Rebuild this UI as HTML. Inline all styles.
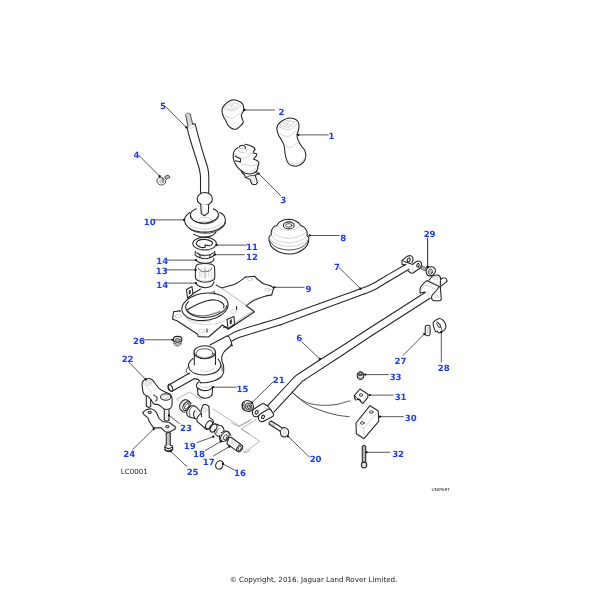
<!DOCTYPE html><html><head><meta charset="utf-8"><title>LC0001</title><style>
html,body{margin:0;padding:0;background:#fff;}
svg{display:block}
text{text-rendering:geometricPrecision}
.n{font-family:"DejaVu Sans","Liberation Sans",sans-serif;font-weight:bold;font-size:8.55px;fill:#1a3cff;text-anchor:middle}
.t{font-family:"DejaVu Sans","Liberation Sans",sans-serif;fill:#222}
.a{fill:none;stroke:#262626;stroke-width:1.08;stroke-linecap:round;stroke-linejoin:round}
.b{fill:#fff;stroke:#262626;stroke-width:1.08;stroke-linecap:round;stroke-linejoin:round}
.c{fill:none;stroke:#aaa;stroke-width:0.5;stroke-linecap:round;stroke-linejoin:round}
.d{fill:none;stroke:#2a2a2a;stroke-width:0.8;stroke-linecap:round;stroke-linejoin:round}
.e{fill:#fff;stroke:#2a2a2a;stroke-width:0.8;stroke-linecap:round;stroke-linejoin:round}
.l{fill:none;stroke:#3a3a3a;stroke-width:0.85}
.g{fill:none;stroke:#888;stroke-width:0.6}
</style></head><body>
<svg width="600" height="600" viewBox="0 0 600 600">
<rect width="600" height="600" fill="#fff"/>
<g>
<path class="b" d="M231 100.2 C232.2 99.8 233.7 99.8 235 100 C236.3 100.2 237.8 100.7 239 101.3 C240.2 101.9 241.6 102.7 242.3 103.7 C243.1 104.7 243.5 106.1 243.7 107.3 C243.8 108.6 243.7 109.7 243.3 111 C242.9 112.3 241.5 113.7 241.3 115 C241.2 116.3 242 117.8 242.3 119 C242.7 120.2 243.6 121.3 243.3 122.3 C243.1 123.4 242.1 124.3 241 125.3 C239.9 126.4 238.1 128 237 128.7 C235.9 129.3 235.3 129.4 234.3 129.3 C233.3 129.2 232.1 128.7 231 128 C229.9 127.3 228.8 126.5 228 125.3 C227.2 124.2 226.7 122.4 226 121 C225.3 119.6 224.3 118.4 223.7 117 C223 115.6 222.4 114.1 222.2 112.7 C222 111.3 222 109.9 222.3 108.7 C222.7 107.4 223.4 106.4 224.3 105.3 C225.2 104.3 226.6 103.2 227.7 102.3 C228.8 101.5 229.8 100.6 231 100.2 Z"/>
<path class="c" d="M225 107 L231.3 102.3"/>
<path class="c" d="M231.3 102.3 L239 104.3"/>
<path class="c" d="M239 104.3 C238.7 104.7 238 105.9 237 106.7 C236 107.4 233.7 108.6 233 109"/>
<path class="c" d="M233 109 C232.2 108.9 229.7 109 228.3 108.7 C227 108.3 225.6 107.3 225 107"/>
<path class="c" d="M229.3 105 L235 106.5"/>
<path class="c" d="M232.7 104 L230.7 107"/>
<path class="c" d="M223.7 114.3 C224.3 114.8 226.2 116.3 227.7 117 C229.1 117.7 230.9 118.4 232.3 118.3 C233.8 118.2 235 117.3 236.3 116.3 C237.7 115.4 239.7 113.3 240.3 112.7"/>
<path class="c" d="M224 108.7 C224.6 108.9 226.3 109.8 227.7 110.2 C229.1 110.6 230.8 111.1 232.3 110.9 C233.9 110.6 235.5 109.6 237 108.7 C238.5 107.7 240.6 105.9 241.3 105.3"/>
<path class="b" d="M289 118 C290.6 117.9 292.6 118.3 294 118.8 C295.4 119.3 296.7 120 297.5 121 C298.3 122 298.8 123.5 299 125 C299.2 126.5 298.8 128.4 298.5 130 C298.2 131.6 297.1 132.8 297 134.5 C296.9 136.2 297.3 138.2 298 140 C298.7 141.8 299.9 143.8 301 145.5 C302.1 147.2 303.7 148.5 304.5 150 C305.3 151.5 305.7 152.9 305.8 154.5 C305.9 156.1 305.6 158 305 159.5 C304.4 161 303.3 162.4 302 163.5 C300.7 164.6 298.6 165.6 297 166 C295.4 166.4 293.9 166.2 292.5 165.8 C291.1 165.4 289.5 164.6 288.5 163.5 C287.5 162.4 287.1 161.2 286.5 159.5 C285.9 157.8 285.4 155.4 285 153 C284.6 150.6 284.6 147.2 284 145 C283.4 142.8 282.4 141.7 281.5 140 C280.6 138.3 279.2 136.7 278.5 135 C277.8 133.3 277.2 131.6 277 130 C276.8 128.4 277 126.8 277.5 125.5 C278 124.2 278.8 123.5 280 122.5 C281.2 121.5 283 120.2 284.5 119.5 C286 118.8 287.4 118.1 289 118 Z"/>
<path class="c" d="M280 125 L286.5 120.5"/>
<path class="c" d="M286.5 120.5 L294.5 122"/>
<path class="c" d="M294.5 122 C294.2 122.5 293.4 124.2 292.5 125 C291.6 125.8 289.6 126.7 289 127"/>
<path class="c" d="M289 127 C288.2 127 285.5 127.1 284 126.8 C282.5 126.5 280.7 125.3 280 125"/>
<path class="c" d="M284 123.2 L290.5 124.8"/>
<path class="c" d="M288.5 121.8 L286 126"/>
<path class="c" d="M279 126.5 C279.8 126.9 282.3 128.5 284 129 C285.7 129.5 287.3 129.8 289 129.5 C290.7 129.2 292.6 128.1 294 127 C295.4 125.9 296.9 123.7 297.5 123"/>
<path class="c" d="M279 133 C279.8 133.5 282.3 135.3 284 135.8 C285.7 136.3 287.5 136.6 289 136.2 C290.5 135.8 291.8 134.4 293 133.5 C294.2 132.6 295.9 131 296.5 130.5"/>
<path class="c" d="M284 145 C284.7 145.4 286.8 146.9 288 147.2 C289.2 147.5 290.3 147.4 291.5 147 C292.7 146.6 293.8 145.4 295 144.5 C296.2 143.6 297.9 142 298.5 141.5"/>
<path class="c" d="M288.5 161 C289.2 161.5 291.2 163.7 293 164 C294.8 164.3 297.2 163.8 299 163 C300.8 162.2 303.2 159.7 304 159"/>
<path class="a" d="M237.9 147.5 C237.4 147.9 235.8 149 235 150 C234.2 151 233.6 152.4 233.3 153.8 C233.1 155.1 233.1 156.7 233.3 158.3 C233.6 159.9 234.3 161.9 235 163.3 C235.7 164.8 236.5 165.8 237.5 167.1 C238.5 168.3 240.6 170.2 241.2 170.8"/>
<path class="a" d="M245 144.2 C245.8 144.4 248.5 144.9 250 145.4 C251.5 146 252.9 146.8 253.8 147.5 C254.6 148.2 254.8 149.2 255 149.6"/>
<path class="a" d="M255 149.6 L253.3 151.7 L253.3 152.9 L256.7 153.8 L256.2 156.2 L254.2 158.3 L253.8 159.2"/>
<path class="a" d="M253.8 159.2 C254.2 159.3 255.5 159.8 256.2 160.2 C257 160.6 257.9 161 258.3 161.7 C258.8 162.3 258.9 163.4 258.8 164.2 C258.6 164.9 257.8 165.9 257.7 166.2"/>
<path class="a" d="M257.7 166.2 L257.9 168.3 L256.7 171"/>
<path class="a" d="M241.2 170.8 C241.9 171.2 244 172.6 245.4 173.2 C246.9 173.7 248.6 174 250 174 C251.4 174 252.6 173.4 253.8 172.9 C254.9 172.4 256.2 171.3 256.7 171"/>
<path class="a" d="M241.2 170.8 L242.1 172.5 L244.6 175 L245.4 177.5 L250 179.2 L251.7 183.8 L253.8 184.8 L256.2 184.2 L257.5 182.5 L256.7 180.4 L255.2 175.2 L257.3 174.2 L256.7 171.7"/>
<path class="c" d="M251.5 176.7 L252.9 183.3"/>
<path class="c" d="M253.3 175.8 L254.8 182.5"/>
<path class="d" d="M245.4 177.5 L250 175.8 L255.2 175.2"/>
<path class="a" d="M239.2 147.3 C239.3 147.1 239.5 146.2 240.2 145.8 C240.8 145.5 242.1 145.2 242.9 145.3 C243.7 145.4 244.6 145.9 245 146.5 C245.4 147.1 245.3 148.4 245.4 148.8"/>
<ellipse class="c" cx="242.7" cy="150.4" rx="4.2" ry="2.1"/>
<path class="c" d="M239.2 147.5 C239.4 147.7 240.1 148.5 240.8 148.8 C241.6 149 243 149.1 243.8 149 C244.5 148.9 245.1 148.4 245.4 148.3"/>
<path class="a" d="M235 156.2 L240.4 158.8 L240.4 162.1 L235.4 160.8"/>
<path class="c" d="M234.2 154.2 C235 154.6 237.4 156.2 239.2 156.8 C240.9 157.5 242.9 158.1 244.6 157.9 C246.2 157.8 247.8 156.7 249.2 155.8 C250.6 155 252.3 153.2 252.9 152.7"/>
<path class="c" d="M241.2 163.8 C242 163.9 244.2 164.2 245.8 164.6 C247.4 165 249.3 165.9 250.8 166 C252.4 166.1 253.9 165.8 255 165.4 C256.1 165 257.1 164 257.5 163.8"/>
<path class="c" d="M250 171.7 C250.6 171.4 252.2 170.6 253.3 170 C254.4 169.4 256.1 168.3 256.7 167.9"/>
<path d="M185.7 115 L190.3 114.3 L192.7 125 L188 127 Z" fill="#d2d2d2" stroke="none"/>
<path class="d" d="M185.7 115 C186 114.7 186.8 113.2 187.6 113.1 C188.4 113 189.8 114.1 190.3 114.3"/>
<path class="d" d="M185.7 115 L188 127"/>
<path class="d" d="M190.3 114.3 L192.7 124.1"/>
<path class="c" d="M187.1 127.7 C187.6 127.8 188.8 128.4 190 128.3 C191.2 128.2 193.1 127.6 194 127 C194.9 126.4 195.1 125 195.3 124.6"/>
<path class="a" d="M192.7 124.1 C193 124 194.2 123.6 194.7 123.7 C195.1 123.8 195.2 124.4 195.3 124.6"/>
<path class="a" d="M187.1 127.7 C187.6 129.6 188.6 134.3 190 139 C191.4 143.7 193.8 151.3 195.3 156 C196.8 160.7 197.9 164 198.8 167 C199.6 170 199.9 172.2 200.2 174 C200.5 175.8 200.4 175.8 200.5 178 C200.6 180.2 200.5 184.3 200.5 187 C200.5 189.7 200.6 192.8 200.6 194"/>
<path class="a" d="M195.3 124.6 C195.9 126.8 197.4 132.8 198.7 137.7 C200 142.5 201.8 148.8 203.3 153.7 C204.8 158.6 206.6 163.8 207.5 167 C208.4 170.2 208.3 171.2 208.5 173 C208.7 174.8 208.7 175.7 208.8 178 C208.8 180.3 208.8 184.3 208.8 187 C208.7 189.7 208.7 192.8 208.7 194"/>
<ellipse class="b" cx="204.8" cy="198.9" rx="7.6" ry="6.4"/>
<path class="b" d="M200.7 204.3 L201.2 213.3 L204.2 215.8 L208.3 212.9 L208.7 204.8"/>
<path class="c" d="M202.8 206.5 L203 213.5"/>
<path class="a" d="M189.6 212.5 C188.9 213.2 186.2 215.3 185.4 216.7 C184.6 218.1 184.4 219.4 184.6 220.8 C184.7 222.2 185.2 223.6 186.2 225 C187.3 226.4 189.1 228.1 190.8 229.2 C192.6 230.2 194.3 230.8 196.7 231.2 C199 231.7 202.4 232.1 205 232.1 C207.6 232.1 210.1 231.8 212.5 231.2 C214.9 230.7 217.2 229.9 219.2 228.8 C221.1 227.6 223.1 226 224.2 224.6 C225.2 223.1 225.5 221.5 225.4 220 C225.3 218.5 224.7 216.7 223.8 215.4 C222.8 214.2 220.3 213 219.6 212.5"/>
<path class="d" d="M185.4 224.2 C186 224.9 187.6 227.1 189.2 228.3 C190.8 229.6 192.4 230.8 195 231.7 C197.6 232.5 201.9 233.2 205 233.3 C208.1 233.4 211 232.9 213.3 232.3 C215.7 231.8 217.4 231.1 219.2 230 C220.9 228.9 223 227.2 224 225.8 C225 224.5 225 222.7 225.2 222.1"/>
<path class="a" d="M196.2 208.8 C195.6 209.2 193.1 210.3 192.1 211.2 C191.1 212.2 190.6 213.4 190.4 214.6 C190.3 215.8 190.5 217.2 191.2 218.3 C192 219.4 193.4 220.5 195 221.2 C196.6 222 198.8 222.6 200.8 222.9 C202.9 223.2 205.4 223.3 207.5 222.9 C209.6 222.6 211.7 221.7 213.3 220.8 C215 219.9 216.7 218.7 217.5 217.5 C218.3 216.3 218.5 214.9 218.3 213.8 C218.2 212.6 217.5 211.7 216.7 210.8 C215.8 210 213.9 209.1 213.3 208.8"/>
<path class="d" d="M190.8 215.8 C191.1 216.5 191.4 218.5 192.5 219.6 C193.6 220.7 195.4 221.8 197.5 222.5 C199.6 223.2 202.6 223.8 205 223.8 C207.4 223.8 209.7 223.2 211.7 222.5 C213.6 221.8 215.5 220.7 216.7 219.6 C217.8 218.5 218.4 216.5 218.8 215.8"/>
<ellipse class="c" cx="204.6" cy="219.6" rx="6.2" ry="2.1"/>
<path class="c" d="M187.5 221.7 C188.3 222.5 189.6 225.4 192.5 226.7 C195.4 227.9 201.1 229.1 205 229.2 C208.9 229.2 213.1 228.1 215.8 227.1 C218.6 226 220.7 223.6 221.7 222.9"/>
<path class="a" d="M193.8 234.2 C194.5 234.5 196.5 235.8 198.3 236.2 C200.2 236.7 202.8 237.2 205 237.1 C207.2 237 209.9 236.6 211.7 235.8 C213.5 235.1 215.1 233.1 215.8 232.5"/>
<path class="a" d="M216.2 243.6 C216.2 244 216.3 244 216 244.9 C215.7 245.8 215.9 245.4 215.2 246.2 C214.6 247 215 246.6 214 247.3 C213.1 248 213.6 247.7 212.4 248.3 C211.2 248.9 211.8 248.6 210.4 249.1 C209 249.5 209.7 249.3 208.2 249.6 C206.7 249.9 207.4 249.8 205.8 249.9 C204.2 250 205 250 203.4 249.9 C201.8 249.8 202.5 249.9 201 249.6 C199.4 249.3 200.2 249.5 198.8 249.1 C197.3 248.6 198 248.9 196.8 248.3 C195.6 247.7 196.1 248 195.1 247.3 C194.2 246.6 194.6 247 193.9 246.2 C193.3 245.4 193.5 245.8 193.2 244.9 C192.8 244 192.9 244.5 192.9 243.6 C192.9 242.7 192.8 243.1 193.2 242.3 C193.5 241.4 193.3 241.8 193.9 241 C194.6 240.2 194.2 240.6 195.1 239.9 C196.1 239.2 195.6 239.5 196.8 238.9 C198 238.3 197.3 238.5 198.8 238.1 C200.2 237.7 199.4 237.8 201 237.6 C202.5 237.3 201.8 237.4 203.4 237.3 C205 237.2 204.2 237.2 205.8 237.3 C207.4 237.4 206.7 237.3 208.2 237.6 C209.7 237.8 209 237.7 210.4 238.1 C211.8 238.5 211.2 238.3 212.4 238.9 C213.6 239.5 213.1 239.2 214 239.9 C215 240.6 214.6 240.2 215.2 241 C215.9 241.8 215.7 241.4 216 242.3 C216.3 243.1 216.2 243.1 216.2 243.6"/>
<path class="a" d="M197.9 240.8 C198.7 240.2 199.4 239.8 200.8 239.6 C202.3 239.4 204.9 239.2 206.7 239.6 C208.5 239.9 210.7 241 211.7 241.7 C212.6 242.4 212.9 243.1 212.5 243.8 C212.1 244.4 210.4 245.6 209.2 245.8 C207.9 246 205.6 244.8 205 245 C204.4 245.2 206 246.7 205.4 247.1 C204.9 247.5 202.9 247.7 201.7 247.5 C200.4 247.3 198.8 246.5 197.9 245.8 C197 245.1 196.2 244.2 196.2 243.3 C196.2 242.5 197.2 241.5 197.9 240.8 Z"/>
<path class="c" d="M194.2 245.8 C194.7 246.3 195.8 248 197.5 248.8 C199.2 249.5 202.2 250.3 204.6 250.4 C206.9 250.5 209.9 249.9 211.7 249.2 C213.5 248.5 214.8 246.7 215.4 246.2"/>
<path class="a" d="M195.3 251.3 C195.3 251.9 194.8 253.7 195.3 254.7 C195.9 255.7 197.1 256.7 198.7 257.3 C200.3 258 202.8 258.7 204.9 258.7 C207 258.7 209.7 258 211.3 257.3 C213 256.6 214.1 255.4 214.7 254.4 C215.2 253.4 214.7 251.8 214.7 251.3"/>
<path class="a" d="M196.7 252.7 C197.3 253 199.3 254.5 200.7 254.9 C202 255.4 203.4 255.4 204.9 255.3 C206.5 255.3 208.6 255.1 210 254.7 C211.4 254.2 212.8 253 213.3 252.7"/>
<path class="a" d="M200 254.7 L200 257.6"/>
<path class="a" d="M210 254.7 L210 257.6"/>
<path class="c" d="M204.9 255.3 L204.9 258.4"/>
<path class="a" d="M196 260 C196.4 260.3 196.8 261.4 198.3 262 C199.8 262.6 202.9 263.3 205 263.3 C207.1 263.4 209.6 262.9 211 262.3 C212.4 261.8 213.2 260.7 213.7 260 C214.1 259.3 213.8 258.6 213.8 258.3"/>
<path class="b" d="M195.5 270.3 C195.6 268.4 195.5 267.3 196 266.3 C196.5 265.3 196.8 264.8 198.3 264.3 C199.8 263.9 202.8 263.5 205 263.5 C207.2 263.5 210.1 263.9 211.7 264.3 C213.2 264.8 213.7 265.3 214.2 266.3 C214.7 267.3 214.6 268.4 214.7 270.3 C214.7 272.2 214.9 276 214.7 277.7 C214.4 279.3 214.6 279.6 213 280.3 C211.4 281.1 207.6 282.2 205 282.2 C202.4 282.2 198.9 281.1 197.3 280.3 C195.8 279.6 195.8 279.3 195.5 277.7 C195.2 276 195.5 272.2 195.5 270.3 Z"/>
<path class="d" d="M198.3 268 C198.7 268.4 199.3 270.1 200.3 270.7 C201.3 271.3 203.6 271.7 204.3 271.7 C205.1 271.7 204.8 270.7 205 270.7 C205.2 270.7 204.9 271.7 205.7 271.7 C206.4 271.7 208.7 271.3 209.7 270.7 C210.7 270.1 211.3 268.4 211.7 268"/>
<path class="c" d="M199.3 271.7 L199.3 277.3"/>
<path class="c" d="M201.3 268.3 L201.3 277.3"/>
<path class="c" d="M205 268.3 L205 277.3"/>
<path class="c" d="M208.7 268.3 L208.7 277.3"/>
<path class="c" d="M211.7 271.7 L211.7 277.3"/>
<path class="c" d="M204.2 266.7 L204.2 278"/>
<path class="c" d="M205.8 266.7 L205.8 278"/>
<path class="c" d="M196.7 278 C197.3 278.4 198.9 279.8 200.3 280.3 C201.7 280.9 203.4 281.1 205 281.1 C206.6 281.1 208.2 280.9 209.7 280.3 C211.1 279.8 213 278.4 213.7 278"/>
<path class="a" d="M196 283.3 C196.4 283.7 196.8 285.1 198.3 285.8 C199.8 286.5 202.9 287.6 205 287.7 C207.1 287.8 209.6 287.1 211 286.3 C212.4 285.6 213.2 283.8 213.7 283 C214.2 282.2 213.9 281.9 214 281.7"/>
<path class="b" d="M276.9 225.4 C276 226.2 274.8 226 274 226.7 C273.2 227.4 272.4 228.5 271.9 229.6 C271.4 230.6 271.2 232.1 271.1 232.9 C271 233.8 271.8 234 271.5 234.6 C271.2 235.1 269.8 235.3 269.4 236.2 C269 237.2 269 239 269 240 C269 241 269.2 241.4 269.7 242.5 C270.1 243.6 270.4 245.3 271.5 246.7 C272.6 248.1 274.6 249.7 276.5 250.8 C278.4 251.9 280.9 252.8 283.2 253.3 C285.4 253.9 287.6 254.1 289.8 254 C292.1 253.9 294.4 253.6 296.5 252.9 C298.6 252.2 300.7 251.1 302.3 250 C304 248.9 305.5 247.5 306.5 246.2 C307.5 245 308 243.5 308.3 242.5 C308.7 241.5 308.6 240.8 308.7 240 C308.7 239.2 308.9 238.3 308.6 237.5 C308.3 236.7 307.1 236 306.9 235.4 C306.7 234.8 307.4 234.6 307.3 233.8 C307.3 232.9 307.1 231.5 306.5 230.4 C305.9 229.3 305 227.9 304 227.1 C303 226.2 301.6 226.2 300.7 225.4 C299.7 224.7 299.3 223.4 298.2 222.5 C297.1 221.6 295.5 220.7 294 220.2 C292.5 219.6 290.7 219.4 289 219.3 C287.3 219.3 285.6 219.5 284 220 C282.4 220.5 280.6 221.2 279.4 222.1 C278.2 223 277.8 224.7 276.9 225.4 Z"/>
<path class="d" d="M269.8 240.8 C270.4 241.5 271.6 243.8 273.2 245 C274.7 246.2 276.4 247.5 279 248.3 C281.6 249.2 285.7 250 289 250 C292.3 250 296.2 249.3 299 248.3 C301.8 247.4 304.1 245.6 305.7 244.2 C307.2 242.8 307.8 240.7 308.2 240"/>
<path class="c" d="M277.3 225.8 C278.2 226.4 280.4 228.4 282.3 229.2 C284.3 229.9 286.8 230.4 289 230.4 C291.2 230.4 293.7 229.9 295.7 229.2 C297.6 228.4 299.8 226.4 300.7 225.8"/>
<path class="c" d="M272.3 231.2 C273.2 232 274.6 234.7 277.3 235.8 C280.1 237 285.1 238.3 289 238.3 C292.9 238.3 297.8 236.9 300.7 235.8 C303.6 234.7 305.5 232.4 306.5 231.7"/>
<path class="c" d="M271.5 235 C272.3 235.8 273.6 238.7 276.5 240 C279.4 241.3 284.8 242.9 289 242.9 C293.2 242.9 298.5 241.2 301.5 240 C304.5 238.8 306 236.5 306.9 235.8"/>
<path class="c" d="M270.2 238.8 C271 239.5 271.7 242 274.8 243.3 C278 244.6 284.4 246.4 289 246.5 C293.6 246.6 299.2 245 302.3 243.8 C305.5 242.5 307.1 239.6 308 238.8"/>
<ellipse class="a" cx="288.8" cy="225.4" rx="5.4" ry="3.5"/>
<ellipse class="d" cx="288.8" cy="225.4" rx="3.2" ry="1.8"/>
<path class="a" d="M179.7 310.9 L173.5 311.8 L172.6 319.3 L177 320.7 L197.7 334.3 L198.2 336.6 L208.5 337 L222.5 325 L228 329"/>
<path class="b" d="M227 319.5 L234 316.5 L234.5 324 L228 329 Z"/>
<path d="M230 320.2 L231.5 319.6 L231.6 323.4 L230.1 324 Z" fill="#444" stroke="#111" stroke-width="0.5"/>
<path class="c" d="M234.5 324 L245 317.8"/>
<path class="b" d="M186.5 289.5 L192 286.5 L193 294 L187.5 298 Z"/>
<path d="M189 290.7 L190.4 290.1 L190.5 293.4 L189.1 294 Z" fill="#444" stroke="#111" stroke-width="0.5"/>
<path class="a" d="M193 293.5 L200.5 289"/>
<path class="c" d="M192.8 295 L197 292.5"/>
<path class="a" d="M228 303.6 C227.9 304.5 228.3 304.5 227.9 306.4 C227.5 308.3 227.8 307.4 226.8 309.3 C225.7 311.2 226.4 310.3 224.7 312 C223 313.8 224 313 221.8 314.6 C219.6 316.1 220.7 315.4 218.1 316.8 C215.5 318.1 216.8 317.5 213.9 318.5 C210.9 319.5 212.4 319.1 209.3 319.8 C206.1 320.4 207.7 320.2 204.5 320.4 C201.3 320.7 202.8 320.7 199.7 320.5 C196.6 320.4 198 320.5 195.1 320 C192.3 319.5 193.6 319.8 191 318.9 C188.5 318 189.6 318.5 187.5 317.3 C185.4 316 186.3 316.7 184.8 315.2 C183.2 313.7 183.8 314.5 182.9 312.7 C182 311 182.3 311.9 182 310 C181.8 308.2 181.7 309.1 182.1 307.2 C182.5 305.3 182.2 306.2 183.2 304.3 C184.3 302.4 183.6 303.3 185.3 301.6 C187 299.8 186 300.6 188.2 299 C190.4 297.5 189.3 298.2 191.9 296.8 C194.5 295.5 193.2 296.1 196.1 295.1 C199.1 294.1 197.6 294.5 200.7 293.8 C203.9 293.2 202.3 293.4 205.5 293.2 C208.7 292.9 207.2 292.9 210.3 293.1 C213.4 293.2 212 293.1 214.9 293.6 C217.7 294.1 216.4 293.8 219 294.7 C221.5 295.6 220.4 295.1 222.5 296.3 C224.6 297.6 223.7 296.9 225.2 298.4 C226.8 299.9 226.2 299.1 227.1 300.9 C228 302.6 227.7 302.7 228 303.6"/>
<path class="a" d="M188.5 301.5 C188.1 302.1 186.4 303.8 186 305 C185.6 306.2 185.5 307.7 186 309 C186.5 310.3 187.3 311.8 189 313 C190.7 314.2 193.3 315.8 196 316.5 C198.7 317.2 202 317.6 205 317.5 C208 317.4 211.2 316.9 214 316 C216.8 315.1 220 313.3 222 312 C224 310.7 225.2 309.1 226 308 C226.8 306.9 226.7 305.9 226.8 305.5"/>
<path class="a" d="M187.5 309.5 C189.2 308.6 194.6 305.5 198 304 C201.4 302.5 205.2 301.2 208 300.5 C210.8 299.8 212.8 299.8 215 300 C217.2 300.2 219.5 301.1 221 302 C222.5 302.9 223.6 304.5 224 305.5 C224.4 306.5 223.6 307.4 223.5 307.8"/>
<path class="d" d="M187.5 309.8 C188.1 310.4 189.2 312.6 191 313.5 C192.8 314.4 195.7 315.1 198 315.5 C200.3 315.9 202.5 316.1 205 315.8 C207.5 315.6 210.5 314.7 213 314 C215.5 313.3 218.8 311.9 220 311.5"/>
<path class="c" d="M208.5 315.2 L210.7 313.4"/>
<path class="c" d="M210.7 314.5 L212.9 312.7"/>
<path class="c" d="M212.9 313.8 L215.1 312"/>
<path class="c" d="M215.1 313.1 L217.3 311.3"/>
<path class="c" d="M217.3 312.4 L219.5 310.6"/>
<path class="c" d="M219.5 311.7 L221.7 309.9"/>
<path class="c" d="M183 314 C184 314.9 186.2 318.2 189 319.5 C191.8 320.8 196.3 321.8 200 322 C203.7 322.2 209.2 321.2 211 321"/>
<path class="c" d="M215 324 C216.3 323.6 220.8 322.7 223 321.5 C225.2 320.3 227.2 317.8 228 317"/>
<path class="c" d="M185 317.5 C186 318.2 188.3 320.8 191 322 C193.7 323.2 197.5 324.2 201 324.5 C204.5 324.8 210.2 324.1 212 324"/>
<ellipse class="c" cx="233.5" cy="311.5" rx="3" ry="1.8"/>
<ellipse class="c" cx="201.5" cy="331" rx="3" ry="1.8"/>
<ellipse class="c" cx="178" cy="316" rx="3" ry="1.8"/>
<path class="d" d="M213 291.5 L214.5 291.8 L214.5 294"/>
<path class="a" d="M236.5 306.5 L236.7 309.5"/>
<path class="a" d="M207 329 L207 332"/>
<path d="M178.8 310.2 L180.8 310.4 L180 312.2 Z" fill="#111"/>
<path class="a" d="M216.1 285 C216.7 285.3 218.5 286.5 219.7 287 C220.8 287.5 222.1 287.8 223 287.8 C223.9 287.8 222.9 287.7 225 287 C227.1 286.3 232.2 285.3 235.7 283.7 C239.1 282 244 278.1 245.7 277"/>
<path class="a" d="M245.7 277 L255 276.3 L256.3 278.3"/>
<path class="a" d="M256.3 278.3 C257.6 279.2 261.3 282.4 263.7 283.7 C266 284.9 269.2 285.3 270.3 285.7"/>
<path class="a" d="M270.3 285.7 L273.7 287.7 L271.7 295"/>
<path class="a" d="M271.7 295 C270.6 295.2 267.9 295.4 265 296.3 C262.1 297.2 257.4 298.8 254.3 300.3 C251.2 301.9 247.7 304.8 246.3 305.7"/>
<path class="a" d="M246.3 305.7 L254.6 311.7 L229 328.7 L225 326.6 L223.7 327.7"/>
<path class="g" d="M216.1 284.6 L246.3 305.3"/>
<path class="g" d="M254.6 311.7 L253 311 L235 323"/>
<path class="c" d="M247 304.3 C248 303.6 251 300.8 253 299.7 C255 298.5 258 297.7 259 297.3"/>
<ellipse class="c" cx="249.7" cy="279" rx="2.9" ry="1.6"/>
<ellipse class="c" cx="267.4" cy="289.7" rx="2.9" ry="1.6"/>
<path class="a" d="M228.3 335.6 C229.4 335 234.5 331.8 239.7 330 C244.9 328.2 276 319 280 317.8"/>
<path class="a" d="M280 317.8 L360 289"/>
<path class="a" d="M360 289 C362.4 288 367 286.5 372 284 C377 281.5 382.4 277.9 385 276.4"/>
<path class="a" d="M385 276.4 L406 264.3"/>
<path class="a" d="M231.7 341.3 C232.5 340.9 234.9 338.9 239.7 337.3 C244.5 335.7 276 326.2 280 325"/>
<path class="a" d="M280 325 L364 294"/>
<path class="a" d="M364 294 C366.2 293.1 370.2 292.1 375 289.6 C379.8 287.1 385.4 283.3 388 281.7"/>
<path class="a" d="M388 281.7 L409 269.3"/>
<path class="a" d="M267.7 405.6 L293.5 378"/>
<path class="a" d="M293.5 378 C293.9 377.6 294.5 376.8 295.3 376.1 C296.1 375.4 297.1 374.8 297.5 374.5"/>
<path class="a" d="M297.5 374.5 L320 359.7 L340 347.2 L370 327.8 L420 295.8 L425.3 292.6"/>
<path class="a" d="M273.7 412.3 L300.5 383.3"/>
<path class="a" d="M300.5 383.3 C300.9 382.9 301.5 382.1 302.3 381.4 C303.1 380.7 304.1 380.2 304.5 379.9"/>
<path class="a" d="M304.5 379.9 L340 356.7 L370 336.7 L430 298.2"/>
<path class="c" d="M279.7 394.9 C280.2 395.2 282 395.8 282.7 396.7 C283.4 397.6 283.5 399.4 283.7 400"/>
<path class="d" d="M292 392.3 C294.2 393.9 300.6 399.6 305 401.7 C309.4 403.8 313.3 404.5 318.3 405 C323.3 405.5 329.7 405.4 335 404.7 C340.3 404 347.5 401.4 350 400.8"/>
<path class="d" d="M292 392.3 C294.4 394.3 301.8 401.1 306.7 404.2 C311.6 407.3 316.7 409 321.7 410.8 C326.7 412.6 332.1 414 336.7 415 C341.3 416 347.1 416.4 349.2 416.7"/>
<path class="a" d="M402.2 260.3 C402.7 259.9 404.1 258.7 405 258 C405.9 257.3 406.4 256.7 407.3 256.3 C408.3 255.9 409.8 255.5 410.7 255.7 C411.5 255.8 412.1 256.5 412.5 257.2 C412.9 257.9 413.1 259.1 413 260 C412.9 260.9 412.2 262.1 412 262.5"/>
<path class="a" d="M402.2 260.3 L402 264.3 L405 265"/>
<path class="a" d="M405 261.7 L412 264.3 L412.7 264.3"/>
<path class="d" d="M402.2 260.3 L405 261.7"/>
<path class="a" d="M412.7 264.3 C413.4 263.8 415.7 261.8 417 261.3 C418.3 260.9 419.6 261.2 420.3 261.7 C421.1 262.1 421.6 263.2 421.7 264 C421.8 264.8 421.3 265.7 421 266.3 C420.7 267 420.2 267.7 420 268"/>
<path class="a" d="M420 268 L412.7 273.3 L411.3 273.2 L408 271"/>
<path class="c" d="M412.7 264.3 L412.7 273.3"/>
<ellipse class="a" cx="408.7" cy="260" rx="1.4" ry="2" transform="rotate(20 408.7 260)"/>
<ellipse class="a" cx="418" cy="265.3" rx="1.2" ry="1.8" transform="rotate(20 418 265.3)"/>
<path d="M421.8 265.7 L426.3 268 L425.3 271 L421 269 Z" fill="#b0b0b0" stroke="#333" stroke-width="0.6"/>
<path class="b" d="M426.7 269 C427.2 268 428.3 267.3 429.3 267 C430.4 266.7 431.9 266.6 432.9 267 C433.9 267.4 435 268.8 435.3 269.7 C435.7 270.6 435.5 271.4 435.1 272.3 C434.6 273.2 433.7 274.4 432.7 275 C431.6 275.6 429.7 276 428.7 275.7 C427.6 275.3 426.6 274.1 426.3 273 C425.9 271.9 426.2 270 426.7 269 Z"/>
<ellipse class="d" cx="430.3" cy="271.7" rx="2" ry="2.7" transform="rotate(20 430.3 271.7)"/>
<ellipse cx="430.3" cy="271.7" rx="1.3" ry="1.9" fill="#bbb" transform="rotate(20 430.3 271.7)"/>
<path class="c" d="M430 267.7 C430.4 267.9 432.1 268.3 432.7 269 C433.2 269.7 433.2 271.2 433.3 271.7"/>
<path class="a" d="M429 280.3 C429.3 279.9 430.1 278.7 430.7 278 C431.3 277.3 431.7 276.5 432.7 276 C433.6 275.5 435.2 275.1 436.3 275 C437.4 274.9 438.6 275.2 439.3 275.7 C440 276.2 440.3 277.6 440.5 278"/>
<path class="a" d="M440.5 278 L440.3 287"/>
<path class="a" d="M427.3 280.7 L440.3 287"/>
<path class="a" d="M427.3 280.7 C427.1 280.8 426.7 280.4 425.7 281.3 C424.7 282.2 422.3 284.7 421.3 286 C420.4 287.3 420.2 288.2 420 289.3 C419.8 290.5 420.3 292.4 420.3 293"/>
<path class="a" d="M420.3 293 L424.8 292.1"/>
<path class="c" d="M421.3 290 C421.6 289.5 421.9 287.8 422.7 287 C423.4 286.2 424.8 285.4 426 285.3 C427.2 285.3 428.6 286.1 430 286.7 C431.4 287.2 433.9 288.3 434.7 288.7"/>
<path class="c" d="M425.3 291.3 C425.7 291.4 427.1 291.1 427.7 291.7 C428.3 292.2 428.8 293.8 429 294.7 C429.2 295.5 428.7 296.3 428.7 296.7"/>
<path class="a" d="M440.3 287 L441.3 299.3 L440 300.7 L433.3 300.7 L431.3 298.3 L432 295.3 L436.7 290 L438.7 287.3"/>
<path class="a" d="M441 279.3 C441.5 279.1 443.1 277.7 444 277.7 C444.9 277.6 445.8 278.4 446.3 279 C446.8 279.6 446.9 280.9 447 281.3"/>
<path class="a" d="M447 281.3 L440.7 286.3"/>
<ellipse class="c" cx="436.7" cy="296.7" rx="1.6" ry="1.7"/>
<ellipse class="c" cx="435.7" cy="278" rx="3" ry="1.5"/>
<path class="a" d="M189.7 373 L170 384.2"/>
<path class="a" d="M172 391.3 L194.2 378.7"/>
<ellipse class="b" cx="170.5" cy="387.8" rx="1.8" ry="3.8" transform="rotate(-25 170.5 387.8)"/>
<path class="a" d="M170 384.2 C169.7 384.6 168.1 385.6 168 386.7 C167.9 387.7 168.5 389.6 169.2 390.3 C169.8 391.1 171.5 391.2 172 391.3"/>
<path class="a" d="M194 378.6 C194.7 378.8 197.1 379.1 198 379.5 C198.9 379.9 199.1 380.4 199.5 381 C199.9 381.6 200.3 382.5 200.5 382.8"/>
<path class="a" d="M210 345 L226.8 336"/>
<path class="a" d="M226.8 336 C227.2 336.2 228.3 336.2 229 337 C229.7 337.8 230.3 339.2 230.8 340.5 C231.3 341.8 231.6 344.2 231.8 345"/>
<path class="a" d="M231.8 345 C231 345.7 228.3 347.8 227 349 C225.7 350.2 224.9 350.8 224 352 C223.1 353.2 222.1 355 221.8 356.5 C221.5 358 221.7 359.4 222 361 C222.3 362.6 223.2 364.2 223.5 366 C223.8 367.8 224 370.2 223.6 372 C223.2 373.8 222.4 375.6 221 377 C219.6 378.4 217.3 379.6 215 380.5 C212.7 381.4 209.4 382.1 207 382.5 C204.6 382.9 201.6 382.8 200.5 382.8"/>
<path class="a" d="M230.5 345 L232.5 345.8"/>
<path class="a" d="M193 358.5 C192.4 359.1 190.2 360.8 189.5 362 C188.8 363.2 188.4 364.7 188.5 366 C188.6 367.3 188.9 368.8 190 370 C191.1 371.2 192.8 372.7 195 373.5 C197.2 374.3 200.3 374.9 203 375 C205.7 375.1 208.7 374.6 211 374 C213.3 373.4 215.4 372.7 217 371.5 C218.6 370.3 219.9 368.4 220.5 367 C221.1 365.6 220.9 364.3 220.5 363 C220.1 361.7 218.4 359.7 218 359"/>
<path class="d" d="M189 367 C188.6 367.3 186.9 368.1 186.5 369 C186.1 369.9 186.2 371.7 186.5 372.5 C186.8 373.3 188.2 373.8 188.5 374"/>
<path class="c" d="M200.5 370.2 C201.2 370.4 203.4 371.4 205 371.5 C206.6 371.6 208.6 371 210 370.5 C211.4 370 212.9 368.8 213.5 368.5"/>
<path class="d" d="M221 365 C221.2 365.5 222 367 222.2 368 C222.4 369 222 370.5 222 371"/>
<ellipse class="b" cx="204.7" cy="352.2" rx="10.8" ry="6.5"/>
<ellipse class="d" cx="204.5" cy="353.5" rx="8.5" ry="4.8"/>
<path class="c" d="M197.5 355 C198.7 355.4 202.1 357.5 204.5 357.5 C206.9 357.5 210.6 355.4 211.8 355"/>
<path class="a" d="M194.3 353 L194.3 365"/>
<path class="a" d="M215.5 352.5 L215.5 364.5"/>
<path class="a" d="M198.5 382 C198.2 382.5 196.7 384 196.5 385 C196.3 386 196.4 387.1 197.5 388 C198.6 388.9 201.1 390.2 203 390.5 C204.9 390.8 207.4 390.5 209 390 C210.6 389.5 211.9 387.9 212.5 387.5"/>
<path class="c" d="M199 385 C199.4 385.3 200.5 386.6 201.5 387 C202.5 387.4 203.8 387.5 205 387.5 C206.2 387.5 207.8 387.2 209 386.8 C210.2 386.4 211.5 385.3 212 385"/>
<path class="a" d="M197.5 388 C197.5 388.5 197.6 389.9 197.7 391 C197.8 392.1 197.9 393.9 198 394.5"/>
<path class="a" d="M212.5 387.5 C212.5 388.1 212.5 389.8 212.4 391 C212.3 392.2 212.1 394.3 212 395"/>
<path class="a" d="M198 394.5 C198.5 394.9 199.8 396.6 201 397.2 C202.2 397.8 203.7 398.1 205 398.2 C206.3 398.2 207.8 398 209 397.5 C210.2 397 211.5 395.4 212 395"/>
<path class="e" d="M173.7 340 C173.7 340.4 173.9 341.9 174 342.7 C174.1 343.4 174 344 174.3 344.5 C174.7 345 175.4 345.4 176 345.7 C176.6 345.9 177.1 346 177.7 346 C178.2 346 179 345.8 179.5 345.5 C180 345.3 180.4 344.8 180.7 344.3 C181 343.8 181 343.1 181.2 342.5 C181.4 341.8 181.6 340.7 181.7 340.3"/>
<path class="d" d="M174.5 342.9 C174.8 343 175.5 343.7 176 343.9 C176.5 344.1 177.1 344.1 177.7 344.1 C178.2 344.1 178.9 344 179.3 343.8 C179.8 343.6 180.3 343 180.5 342.9"/>
<ellipse class="b" cx="177.7" cy="339.3" rx="4.2" ry="2.9"/>
<ellipse class="d" cx="177.7" cy="339.8" rx="2.4" ry="1.3"/>
<ellipse cx="177.7" cy="339.6" rx="1.8" ry="0.9" fill="#aaa"/>
<path class="a" d="M146.3 396.3 L146.3 405.7"/>
<path class="a" d="M150.7 399 L150.7 406.6"/>
<path class="a" d="M146.3 405.7 C146.7 406 147.6 407.2 148.3 407.4 C149.1 407.6 150.3 406.7 150.7 406.6"/>
<path class="a" d="M164.3 409 L164.3 419.7"/>
<path class="a" d="M169 409 L169 419.9"/>
<path class="a" d="M164.3 419.7 C164.7 419.9 166 421.2 166.7 421.3 C167.5 421.3 168.6 420.2 169 419.9"/>
<path class="c" d="M166.3 411 L166.3 418.3"/>
<path class="b" d="M142.3 382.3 C142.9 380.9 144.2 379.6 145.7 379 C147.1 378.4 149.6 378.4 151 379 C152.4 379.6 153 380.8 154.3 382.3 C155.7 383.9 157.1 386.7 159 388.3 C160.9 390 163.7 391.2 165.7 392.3 C167.7 393.4 169.9 393.8 171 395 C172.1 396.2 172 397.8 172.1 399.7 C172.2 401.6 172.2 404.8 171.7 406.3 C171.2 407.9 170.2 408.6 169 409 C167.8 409.4 166 409.7 164.3 409 C162.7 408.3 160.8 405.9 159 405 C157.2 404.1 155 404.6 153.7 403.7 C152.3 402.8 152.1 401 151 399.7 C149.9 398.3 148.2 396.7 147 395.7 C145.8 394.7 144.4 395 143.7 393.7 C142.9 392.3 142.6 389.6 142.3 387.7 C142.1 385.8 141.8 383.8 142.3 382.3 Z"/>
<ellipse class="c" cx="147.7" cy="383" rx="4.3" ry="2.7"/>
<ellipse class="c" cx="147.7" cy="383" rx="2.4" ry="1.3"/>
<ellipse class="a" cx="165.7" cy="397" rx="5.1" ry="3.3"/>
<ellipse class="c" cx="165.7" cy="397" rx="2.7" ry="1.6"/>
<path class="a" d="M153.7 395 C154.2 395.3 156 396.3 156.6 397 C157.2 397.7 157.2 398.7 157 399.4 C156.8 400.1 155.9 400.7 155.7 401"/>
<path class="c" d="M147 387 C147.4 387.6 148.9 389.4 149.7 390.3 C150.4 391.2 151.3 392 151.7 392.3"/>
<path class="a" d="M143 412.3 C143.6 411.9 144.9 410.2 146.3 409.7 C147.8 409.1 150 408.6 151.7 409 C153.3 409.4 155.1 410.8 156.3 412.3 C157.6 413.9 157.9 416.8 159 418.3 C160.1 419.9 162.3 421.1 163 421.7"/>
<path class="a" d="M163 421.7 L169 422.3 L175.7 427 L175 429.3 L169 432.3 L165 431.7 L161 427.7 L153.7 427.9"/>
<path class="a" d="M153.7 427.9 C153 427 150.7 424 149.7 422.3 C148.7 420.6 148.7 419 147.7 417.7 C146.7 416.3 144.4 415.2 143.7 414.3 C142.9 413.4 143.1 412.7 143 412.3"/>
<path class="c" d="M175.7 427 L169 430.3 L165 429.7"/>
<ellipse class="a" cx="149.7" cy="412.3" rx="1.6" ry="1.1"/>
<ellipse class="a" cx="167.3" cy="426.6" rx="1.6" ry="1.1"/>
<rect x="166.8" y="434" width="3.2" height="11" fill="#c8c8c8"/>
<path class="a" d="M166.3 433.3 L166.3 445.3"/>
<path class="a" d="M170.3 433.3 L170.3 445.3"/>
<path class="c" d="M168.3 434 L168.3 445.3"/>
<path class="a" d="M166.3 433.3 C166.7 433.2 167.7 432.4 168.3 432.4 C169 432.4 170 433.2 170.3 433.3"/>
<path class="b" d="M166.3 445.3 L165 446 L165 450 L168.3 451.7 L172.6 450 L172.6 446 L170.3 445.3"/>
<path class="a" d="M165 447.3 L168.3 448.7 L172.6 447.3"/>
<path class="a" d="M165 450 L168.3 450.9 L172.6 449.6"/>
<path class="a" d="M185.3 399.7 C184.8 399.9 182.9 400.4 182 401.3 C181.1 402.3 179.9 404 179.7 405.3 C179.4 406.7 179.8 408.3 180.3 409.3 C180.9 410.4 182.2 411.2 183 411.7 C183.8 412.1 184.9 411.9 185.3 412"/>
<path class="a" d="M185.3 399.7 C185.9 399.9 187.7 400.3 188.7 401 C189.6 401.7 190.6 403.2 191 403.7"/>
<ellipse class="b" cx="186.5" cy="406.1" rx="3.1" ry="4.8" transform="rotate(33 186.5 406.1)"/>
<ellipse class="d" cx="186.8" cy="406.4" rx="1.7" ry="3.2" transform="rotate(33 186.8 406.4)"/>
<path class="c" d="M182.7 402.7 C182.5 403.2 181.7 404.6 181.7 405.7 C181.6 406.7 182.2 408.4 182.3 409"/>
<path class="a" d="M193.7 405.7 C193.2 405.7 191.6 405.5 190.7 406 C189.7 406.5 188.7 407.6 188 408.7 C187.3 409.8 186.7 411.4 186.7 412.7 C186.6 413.9 187.1 415.2 187.7 416 C188.3 416.8 189.9 417.1 190.3 417.3"/>
<path class="a" d="M193.7 405.7 C194.2 405.9 195.6 406.4 196.7 407.3 C197.7 408.2 199.4 410.4 200 411"/>
<path class="a" d="M190.3 417.3 C190.9 417.5 193.1 418.1 194 418.3 C194.9 418.6 195.7 418.9 196 419"/>
<path class="d" d="M192.3 406.7 C191.9 407.1 190.5 408.3 190 409.3 C189.5 410.4 189.2 411.9 189.2 413 C189.2 414.1 189.9 415.5 190 416"/>
<path class="c" d="M191 407.7 C190.8 408.2 189.8 409.8 189.7 411 C189.5 412.2 189.9 414.1 190 414.7"/>
<path class="a" d="M194.8 410.8 C194.6 411.3 193.6 412.7 193.5 413.7 C193.3 414.6 193.7 415.9 194 416.7 C194.3 417.4 194.8 418.1 195 418.3"/>
<path class="c" d="M197.3 410.3 C197.1 410.8 196.2 412.1 196.1 413 C196 413.9 196.6 415.5 196.7 416"/>
<path class="a" d="M203.3 405 C203.6 404.9 204.4 404.5 205 404.5 C205.6 404.5 206.3 404.6 207 405 C207.7 405.4 208.7 406.4 209 406.7"/>
<path class="a" d="M209 406.7 L209.3 417.3"/>
<path class="a" d="M209.3 417.3 C209.7 417.6 210.8 418.2 211.3 418.7 C211.9 419.2 212.4 419.7 212.8 420.3 C213.2 421 213.5 422.3 213.7 422.7"/>
<path class="a" d="M203.3 405 C203.1 405.5 202.2 407 201.9 408 C201.5 409 201.2 410 201.1 411 C201 412 201.1 413 201.2 414 C201.3 415 201.6 416.3 201.7 416.8"/>
<path class="a" d="M201.1 413.5 C200.7 413.8 199.4 414.5 198.7 415.5 C197.9 416.4 197 418 196.8 419 C196.6 420 197.2 421.2 197.3 421.7"/>
<path class="a" d="M197.3 421.7 L206 429"/>
<path class="a" d="M206 429 C206.2 429.1 206.8 429.4 207.2 429.5 C207.6 429.5 208.1 429.4 208.3 429.3"/>
<ellipse class="b" cx="209" cy="424.8" rx="2.8" ry="4.4" transform="rotate(33 209 424.8)"/>
<ellipse class="c" cx="205" cy="409.9" rx="1.5" ry="2"/>
<path class="c" d="M206.7 422.7 C206.6 423.1 206.1 424.4 206.1 425.3 C206.2 426.2 206.9 427.6 207 428"/>
<path class="a" d="M210.3 429.9 C210.2 429.4 209.5 428.2 209.8 427.3 C210.1 426.5 211 425.4 212 424.8 C213 424.2 214.6 424 215.7 424 C216.7 424 217.9 424.8 218.3 425"/>
<ellipse class="b" cx="213.5" cy="428" rx="2.9" ry="4.4" transform="rotate(33 213.5 428)"/>
<path class="a" d="M218.3 425 C218.9 425.2 220.8 425.4 221.7 426 C222.6 426.6 223.3 427.9 223.7 428.7 C224.1 429.4 223.9 430.3 224 430.7"/>
<path class="a" d="M215 429.3 C214.9 429.7 214.6 430.9 214.7 431.7 C214.7 432.4 214.8 433.3 215.3 434 C215.8 434.7 217 435.6 217.7 436 C218.3 436.4 219.1 436.1 219.3 436.1"/>
<path class="d" d="M216.9 433 C216.9 432.6 216.5 431.4 216.9 430.7 C217.2 429.9 218.8 429 219.1 428.7"/>
<path class="c" d="M211.7 427 C211.6 427.3 211.1 428.3 211.1 429 C211.2 429.7 211.9 430.9 212 431.3"/>
<path class="a" d="M220 435.3 C219.9 435.9 219.2 437.7 219.3 438.7 C219.5 439.6 220.4 440.6 221 441 C221.6 441.4 222.4 441.3 222.7 441.3"/>
<path class="a" d="M221.3 432.7 C221.9 432.4 223.7 431.1 225 431 C226.3 430.9 228.1 431.6 229 432.3 C229.9 433.1 230.4 434.8 230.7 435.3"/>
<ellipse class="b" cx="224.9" cy="436.5" rx="3.5" ry="5.5" transform="rotate(33 224.9 436.5)"/>
<ellipse class="d" cx="225.3" cy="437.1" rx="1.5" ry="2.9" transform="rotate(33 225.3 437.1)"/>
<path class="c" d="M222.5 434.3 C222.3 434.8 221.6 436.1 221.5 437 C221.5 437.9 222.1 439.5 222.2 440"/>
<path class="a" d="M228 440 C228.2 439.6 228.8 438.1 229.3 437.7 C229.8 437.2 230.7 437.4 231 437.3"/>
<path class="a" d="M231 437.3 L241.3 444.7"/>
<path class="a" d="M228.7 445 L237.1 451.1"/>
<path class="a" d="M228 440 C227.8 440.4 227.1 441.6 227 442.3 C226.9 443.1 227.1 443.9 227.3 444.3 C227.6 444.8 228.4 444.9 228.7 445"/>
<path class="c" d="M231.1 437.5 C231.3 437.8 232 438.7 232 439.7 C232 440.6 231.7 442.1 231.3 443 C230.9 443.9 229.8 444.9 229.5 445.3"/>
<ellipse class="b" cx="239.7" cy="448.3" rx="2.5" ry="3.7" transform="rotate(33 239.7 448.3)"/>
<ellipse class="d" cx="239.7" cy="448.5" rx="1.3" ry="2.3" transform="rotate(33 239.7 448.5)"/>
<path class="c" d="M233 441 L231.7 443.7"/>
<path class="c" d="M234.7 442.1 L233.3 444.8"/>
<path class="c" d="M236.2 443.3 L234.9 446"/>
<path class="a" d="M223.2 463.2 C223 462.9 222.6 461.6 222 461.2 C221.4 460.8 220.4 460.6 219.5 460.8 C218.6 461 217.5 461.7 216.8 462.5 C216.2 463.3 215.7 464.6 215.6 465.5 C215.5 466.4 215.9 467.6 216.5 468.2 C217.1 468.8 218.2 469.2 219 469.2 C219.8 469.2 220.9 468.6 221.5 468 C222.1 467.4 222.6 466.2 222.8 465.8"/>
<path class="g" d="M178.7 400.7 L176.7 399.1 L189.3 392 L202 400"/>
<path class="g" d="M212.7 408.7 L239.3 426 L250 420.4"/>
<path class="g" d="M240.7 428.7 L250 434.3"/>
<path class="g" d="M243.6 451.6 L246 452.7 L250 450.3"/>
<path class="g" d="M231 422.7 L239 426.7 L252.3 418.7"/>
<path class="g" d="M256.3 419.6 L241 428.7 L259.7 441.3 L245 452 L242.7 450.9"/>
<path class="a" d="M252.3 413.1 C252.4 412.6 252.6 410.8 253 410 C253.4 409.2 254.7 408.6 255 408.3"/>
<path class="a" d="M255 408.3 L263 403.3 L267.7 406"/>
<path class="a" d="M252.3 413.1 C252.6 413.6 252.9 415.4 253.7 416 C254.4 416.6 256.1 416.8 257 416.7 C257.9 416.6 258.7 415.6 259 415.3"/>
<path class="a" d="M258.3 418 C258.4 417.6 258.4 416 258.7 415.3 C259.1 414.6 260.3 414 260.6 413.7"/>
<path class="a" d="M260.6 413.7 L269 408.7 L271 410 L273.7 414.7 L273 416.3 L263.7 421.3"/>
<path class="a" d="M263.7 421.3 C263.2 421.4 261.8 421.8 261 421.6 C260.2 421.4 259.4 420.6 259 420 C258.6 419.4 258.4 418.3 258.3 418"/>
<path class="c" d="M263 403.3 L265 408.7 L269 408.7"/>
<path class="a" d="M267.7 406 L271 410"/>
<ellipse class="a" cx="256.6" cy="412.3" rx="1.3" ry="1.9" transform="rotate(35 256.6 412.3)"/>
<ellipse class="a" cx="263" cy="416.9" rx="1.3" ry="1.9" transform="rotate(35 263 416.9)"/>
<path class="b" d="M242.2 406 C242.2 404.9 242.4 403.4 243 402.5 C243.6 401.6 244.9 400.9 246 400.7 C247.1 400.4 248.4 400.5 249.5 401 C250.6 401.5 251.8 402.5 252.5 403.5 C253.2 404.5 253.6 405.9 253.5 407 C253.4 408.1 252.8 409.2 252 410 C251.2 410.8 250.1 411.4 249 411.5 C247.9 411.6 246.5 411.2 245.5 410.8 C244.5 410.4 243.6 409.8 243 409 C242.4 408.2 242.2 407.1 242.2 406 Z"/>
<ellipse cx="248.2" cy="406.5" rx="3.4" ry="3.6" fill="#c8c8c8"/>
<ellipse class="d" cx="248.5" cy="406.5" rx="3.2" ry="3.6" transform="rotate(-20 248.5 406.5)"/>
<ellipse class="d" cx="248.8" cy="406.8" rx="1.5" ry="1.8" transform="rotate(-20 248.8 406.8)"/>
<path class="a" d="M243 402.5 C242.9 402.8 242.2 403.4 242.2 404.5 C242.2 405.6 242.9 408.2 243 409"/>
<path class="d" d="M244.5 402.2 C244.4 402.7 243.8 403.8 243.8 405 C243.9 406.2 244.6 408.8 244.8 409.5"/>
<path d="M271.3 421 L276.3 424.1 L274.3 427.5 L269.3 424.3 Z" fill="#d4d4d4" stroke="none"/>
<path class="a" d="M271.3 421 L282.3 428"/>
<path class="a" d="M269.3 424.3 L280.3 431.3"/>
<path class="a" d="M269.3 424.3 C269.3 424 268.8 422.9 269.1 422.3 C269.5 421.8 271 421.2 271.3 421"/>
<path class="b" d="M282.3 428 C282.8 427.9 284.1 427.4 285 427.7 C285.9 427.9 287.1 428.6 287.7 429.3 C288.3 430.1 288.6 431.1 288.7 432 C288.7 432.9 288.5 434.2 288 435 C287.5 435.8 286.5 436.4 285.7 436.7 C284.8 436.9 283.8 436.9 283 436.7 C282.2 436.4 281.4 435.9 281 435 C280.6 434.1 280.4 431.9 280.3 431.3"/>
<path class="d" d="M282.3 428 C282.2 428.2 281.7 428.8 281.3 429.3 C281 429.9 280.5 431 280.3 431.3"/>
<path class="c" d="M284.3 429 C284.2 429.5 283.3 430.8 283.3 432 C283.3 433.2 284.2 435.6 284.3 436.3"/>
<path class="c" d="M286.3 429.3 C286.2 429.9 285.3 431.6 285.3 432.7 C285.3 433.8 286.2 435.4 286.3 436"/>
<ellipse class="b" cx="360.5" cy="375.7" rx="3.3" ry="4"/>
<ellipse cx="360.5" cy="374.2" rx="2.7" ry="2.1" fill="#555"/>
<path class="d" d="M357.7 376.7 C358.1 376.9 359.5 378.3 360.5 378.3 C361.4 378.3 362.9 376.9 363.3 376.7"/>
<ellipse cx="360.5" cy="373.6" rx="1.2" ry="0.8" fill="#999"/>
<path class="b" d="M354.3 395.7 L360 389 L368 394.3 L367.7 397.7 L362.7 403.7 L360.7 401.3 Z"/>
<path class="b" d="M360.7 401.3 C360.6 401.1 360.4 400 360 399.7 C359.6 399.3 358.7 399.1 358 399.1 C357.3 399.2 356.5 400.1 356 400 C355.5 399.9 355.3 399.4 355 398.7 C354.7 397.9 354.4 396.2 354.3 395.7"/>
<path class="a" d="M355 398.7 L354.3 395.7"/>
<path class="c" d="M367 395.3 L362.5 401 L362.7 403.7"/>
<ellipse class="d" cx="361" cy="395" rx="1.6" ry="1.5"/>
<ellipse cx="361" cy="395" rx="0.9" ry="0.8" fill="#aaa"/>
<path class="b" d="M356 423 L370 405.7 L378.3 411 L378.7 421.3 L364 438.7 L356.3 433.7 Z"/>
<path class="c" d="M356 423 L363.7 428.3 L378.3 411"/>
<path class="c" d="M363.7 428.3 L364 438.7"/>
<ellipse class="d" cx="371.3" cy="412" rx="1.9" ry="1.3"/>
<ellipse class="d" cx="362.3" cy="423" rx="1.9" ry="1.3"/>
<ellipse cx="371.3" cy="412.3" rx="1" ry="0.7" fill="#aaa"/><ellipse cx="362.3" cy="423.3" rx="1" ry="0.7" fill="#aaa"/>
<rect x="362.6" y="446" width="2.8" height="16" fill="#bbb"/>
<path class="a" d="M362.3 446.7 C362.6 446.4 363.4 445.3 363.9 445.3 C364.5 445.3 365.4 446.4 365.7 446.7"/>
<path class="a" d="M362.3 446.7 L362.3 462"/>
<path class="a" d="M365.7 446.7 L365.7 462"/>
<path class="c" d="M364.1 446.7 L364.1 462"/>
<ellipse class="b" cx="364.1" cy="464.9" rx="2.7" ry="2.8"/>
<ellipse class="c" cx="364.1" cy="464.9" rx="1.3" ry="1.5"/>
<rect x="425.2" y="325.3" width="4.9" height="10.4" rx="1.9" class="b"/>
<path class="c" d="M427.2 327.2 L427.2 333.7"/>
<path class="c" d="M428.1 327.2 L428.1 333.7"/>
<path class="b" d="M433.3 322.3 C433.8 321.4 434.9 320.6 436 320 C437.1 319.4 438.6 318.5 439.7 318.5 C440.8 318.5 441.8 319.3 442.7 320 C443.6 320.7 444.5 321.9 445 323 C445.5 324.1 445.9 325.3 445.9 326.3 C445.9 327.4 445.5 328.6 445 329.3 C444.5 330.1 443.6 330.7 443 331 C442.4 331.3 441.9 331 441.3 331.3 C440.7 331.7 439.9 332.8 439.3 333 C438.8 333.2 438.3 332.6 438 332.3 C437.7 332.1 437.7 331.4 437.3 331.3 C436.9 331.2 436.2 332.1 435.7 331.7 C435.2 331.2 434.7 329.7 434.3 328.7 C433.9 327.6 433.5 326.4 433.3 325.3 C433.2 324.3 432.9 323.2 433.3 322.3 Z"/>
<ellipse class="d" cx="438.7" cy="325.1" rx="1.3" ry="3.1" transform="rotate(-28 438.7 325.1)"/>
<path class="d" d="M436.7 321.9 C437.1 322.3 438.6 323.4 439.3 324.3 C440.1 325.3 440.8 326.6 441.2 327.5 C441.6 328.4 441.6 329.3 441.7 329.7"/>
<ellipse class="c" cx="438.8" cy="325.2" rx="0.5" ry="1.5" transform="rotate(-28 438.8 325.2)"/>
<path d="M164.7 176.7 L168 175 L170 177.3 L166.3 179.3 Z" fill="#c8c8c8" stroke="#222" stroke-width="0.8" stroke-linejoin="round"/>
<path class="e" d="M159.5 177.3 C160.3 177.2 161.4 177.3 162.3 177.7 C163.2 178.1 164.4 178.9 165 179.7 C165.6 180.4 165.8 181.3 165.7 182 C165.6 182.7 165 183.5 164.3 184 C163.7 184.5 162.6 184.9 161.7 185 C160.8 185.1 159.7 184.8 159 184.3 C158.3 183.9 157.6 183.1 157.3 182.3 C157 181.6 157 180.7 157.1 180 C157.2 179.3 157.6 178.6 158 178.2 C158.4 177.8 158.8 177.4 159.5 177.3 Z"/>
<ellipse cx="161.2" cy="180.8" rx="2.2" ry="2.2" fill="#ccc"/>
<path class="d" d="M162 177.7 C162.2 178.1 163.2 179.2 163.3 180 C163.5 180.8 163.1 182.2 163 182.7"/>
<path class="c" d="M158.3 181.7 C158.6 181.9 159.4 182.8 160 183 C160.6 183.2 161.7 183 162 183"/>
</g>
<g style="filter:opacity(1)">
<text class="n" x="162.9" y="109.2">5</text>
<text class="n" x="281.5" y="114.7">2</text>
<text class="n" x="331.4" y="139.1">1</text>
<text class="n" x="136.4" y="158.3">4</text>
<text class="n" x="283.3" y="203.4">3</text>
<text class="n" x="149.7" y="224.9">10</text>
<text class="n" x="343.2" y="240.7">8</text>
<text class="n" x="252" y="249.5">11</text>
<text class="n" x="252" y="259.5">12</text>
<text class="n" x="162.3" y="263.8">14</text>
<text class="n" x="161.7" y="274.4">13</text>
<text class="n" x="162.3" y="287.8">14</text>
<text class="n" x="308.5" y="291.6">9</text>
<text class="n" x="337" y="269.5">7</text>
<text class="n" x="429.6" y="237.0">29</text>
<text class="n" x="299.3" y="341.2">6</text>
<text class="n" x="138.9" y="344.1">26</text>
<text class="n" x="127.6" y="361.6">22</text>
<text class="n" x="242.4" y="391.7">15</text>
<text class="n" x="278.8" y="382.7">21</text>
<text class="n" x="395.6" y="379.6">33</text>
<text class="n" x="400.6" y="399.7">31</text>
<text class="n" x="410.7" y="420.6">30</text>
<text class="n" x="400.5" y="364.1">27</text>
<text class="n" x="443.7" y="370.8">28</text>
<text class="n" x="185.9" y="431.4">23</text>
<text class="n" x="189.7" y="448.8">19</text>
<text class="n" x="199" y="457.1">18</text>
<text class="n" x="208.7" y="464.8">17</text>
<text class="n" x="240" y="475.5">16</text>
<text class="n" x="315.6" y="462.1">20</text>
<text class="n" x="129.3" y="457.1">24</text>
<text class="n" x="192.6" y="474.6">25</text>
<text class="n" x="398.1" y="457.4">32</text>
<text class="t" x="120.8" y="474.2" font-size="7.13">LC0001</text>
<text class="t" x="431.6" y="490.9" font-size="4.3">UNIPART</text>
<text class="t" x="313.5" y="582" font-size="7.13" text-anchor="middle">© Copyright, 2016. Jaguar Land Rover Limited.</text>
</g>
<g>
<path class="l" d="M244.4 110 L274.9 110"/>
<circle cx="244.4" cy="110" r="1.15" fill="#111"/>
<path class="l" d="M298.3 134.9 L328.7 134.9"/>
<circle cx="298.3" cy="134.9" r="1.15" fill="#111"/>
<path class="l" d="M258.7 173.7 L280.7 195.7"/>
<circle cx="258.7" cy="173.7" r="1.15" fill="#111"/>
<path class="l" d="M186.3 127.4 L165.3 106.3"/>
<circle cx="186.3" cy="127.4" r="1.15" fill="#111"/>
<path class="l" d="M159.7 176.2 L138.5 155"/>
<circle cx="159.7" cy="176.2" r="1.15" fill="#111"/>
<path class="l" d="M184 219.9 L153.1 219.9"/>
<circle cx="184" cy="219.9" r="1.15" fill="#111"/>
<path class="l" d="M216.7 245.1 L246.7 245.1"/>
<circle cx="216.7" cy="245.1" r="1.15" fill="#111"/>
<path class="l" d="M214.7 254.7 L244.7 254.7"/>
<circle cx="214.7" cy="254.7" r="1.15" fill="#111"/>
<path class="l" d="M195.9 260.1 L167.1 260.1"/>
<circle cx="195.9" cy="260.1" r="1.15" fill="#111"/>
<path class="l" d="M195.5 269.9 L164.9 269.9"/>
<circle cx="195.5" cy="269.9" r="1.15" fill="#111"/>
<path class="l" d="M195.9 283.1 L166 283.1"/>
<circle cx="195.9" cy="283.1" r="1.15" fill="#111"/>
<path class="l" d="M274.5 287.3 L304.5 287.3"/>
<circle cx="274.5" cy="287.3" r="1.15" fill="#111"/>
<path class="l" d="M360.5 288.7 L339 267.5"/>
<circle cx="360.5" cy="288.7" r="1.15" fill="#111"/>
<path class="l" d="M319.8 359 L301.5 341.5"/>
<circle cx="319.8" cy="359" r="1.15" fill="#111"/>
<path class="l" d="M424.3 334.1 L402.9 355.6"/>
<circle cx="424.3" cy="334.1" r="1.15" fill="#111"/>
<path class="l" d="M441.3 332.3 L441.3 362.7"/>
<circle cx="441.3" cy="332.3" r="1.15" fill="#111"/>
<path class="l" d="M365.3 374.6 L388.8 374.6"/>
<circle cx="365.3" cy="374.6" r="1.15" fill="#111"/>
<path class="l" d="M427.6 267 L427.6 238"/>
<circle cx="427.6" cy="267" r="1.15" fill="#111"/>
<path class="l" d="M213 387.2 L236.8 387.2"/>
<circle cx="213" cy="387.2" r="1.15" fill="#111"/>
<path class="l" d="M172.5 339.8 L142.5 339.8"/>
<circle cx="172.5" cy="339.8" r="1.15" fill="#111"/>
<path class="l" d="M145.7 379.4 L128 361.2"/>
<circle cx="145.7" cy="379.4" r="1.15" fill="#111"/>
<path class="l" d="M169 415.4 L179.7 423.7"/>
<circle cx="169" cy="415.4" r="1.15" fill="#111"/>
<path class="l" d="M153.7 429 L132.3 450"/>
<circle cx="153.7" cy="429" r="1.15" fill="#111"/>
<path class="l" d="M170.7 451.3 L187 466.7"/>
<circle cx="170.7" cy="451.3" r="1.15" fill="#111"/>
<path class="l" d="M213.3 436.7 L196.7 442.7"/>
<circle cx="213.3" cy="436.7" r="1.15" fill="#111"/>
<path class="l" d="M220.8 441.5 L205 450.7"/>
<circle cx="220.8" cy="441.5" r="1.15" fill="#111"/>
<path class="l" d="M229.3 446.7 L213.3 456"/>
<circle cx="229.3" cy="446.7" r="1.15" fill="#111"/>
<path class="l" d="M223 464 L234.5 470"/>
<circle cx="223" cy="464" r="1.15" fill="#111"/>
<path class="l" d="M251.8 402.8 L273.5 381.5"/>
<circle cx="251.8" cy="402.8" r="1.15" fill="#111"/>
<path class="l" d="M288 436.3 L309.7 457.3"/>
<circle cx="288" cy="436.3" r="1.15" fill="#111"/>
<path class="l" d="M369.7 395.1 L393.5 395.1"/>
<circle cx="369.7" cy="395.1" r="1.15" fill="#111"/>
<path class="l" d="M380 416.7 L403.8 416.7"/>
<circle cx="380" cy="416.7" r="1.15" fill="#111"/>
<path class="l" d="M366.6 452.3 L390.3 452.3"/>
<circle cx="366.6" cy="452.3" r="1.15" fill="#111"/>
<path class="l" d="M309.6 235.5 L339.7 235.5"/>
<circle cx="309.6" cy="235.5" r="1.15" fill="#111"/>
<path class="l" d="M427.6 267 L427.6 237.7"/>
<circle cx="427.6" cy="267" r="1.15" fill="#111"/>
</g>
</svg></body></html>
